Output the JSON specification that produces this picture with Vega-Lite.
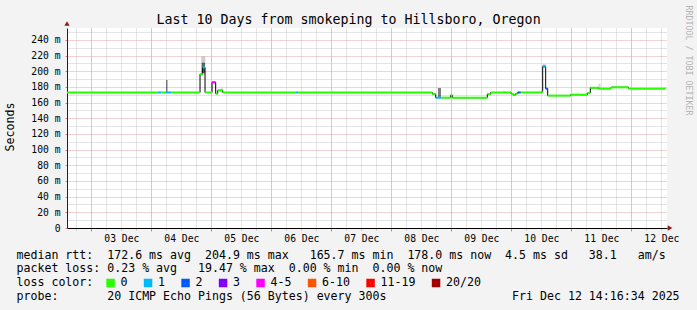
{
  "$schema": "https://vega.github.io/schema/vega-lite/v6.json",
  "width": 600,
  "height": 200,
  "autosize": {"type": "none"},
  "padding": {"left": 67, "top": 28, "right": 30, "bottom": 82},
  "background": "#f3f3f3",
  "config": {
    "view": {"fill": "#ffffff", "stroke": null},
    "font": "DejaVu Sans Mono",
    "axis": {"labelFont": "DejaVu Sans Mono", "titleFont": "DejaVu Sans Mono", "labelColor": "#000000", "titleColor": "#000000", "titleFontWeight": "normal"}
  },
  "title": {
    "text": "Last 10 Days from smokeping to Hillsboro, Oregon",
    "font": "DejaVu Sans Mono",
    "fontSize": 13.3,
    "fontWeight": "normal",
    "color": "#000000",
    "anchor": "middle",
    "dx": -18.5,
    "baseline": "alphabetic",
    "offset": -32.3
  },
  "datasets": {
    "median": [
      {"start": "2025-12-02T14:16:34Z", "end": "2025-12-04T02:41:00Z", "rtt": 173, "loss": "0"},
      {"start": "2025-12-04T02:41:00Z", "end": "2025-12-04T03:53:00Z", "rtt": 173, "loss": "1"},
      {"start": "2025-12-04T03:53:00Z", "end": "2025-12-04T05:53:00Z", "rtt": 173, "loss": "0"},
      {"start": "2025-12-04T05:53:00Z", "end": "2025-12-04T07:53:00Z", "rtt": 173, "loss": "1"},
      {"start": "2025-12-04T07:53:00Z", "end": "2025-12-04T19:29:00Z", "rtt": 173, "loss": "0"},
      {"start": "2025-12-04T19:29:00Z", "end": "2025-12-04T20:33:00Z", "rtt": 196.5, "loss": "0"},
      {"start": "2025-12-04T20:33:00Z", "end": "2025-12-04T21:29:00Z", "rtt": 205, "loss": "1"},
      {"start": "2025-12-04T21:29:00Z", "end": "2025-12-05T00:17:00Z", "rtt": 173, "loss": "0"},
      {"start": "2025-12-05T00:17:00Z", "end": "2025-12-05T01:45:00Z", "rtt": 186, "loss": "4-5"},
      {"start": "2025-12-05T01:45:00Z", "end": "2025-12-05T02:33:00Z", "rtt": 171.5, "loss": "0"},
      {"start": "2025-12-05T02:33:00Z", "end": "2025-12-05T04:33:00Z", "rtt": 175.7, "loss": "0"},
      {"start": "2025-12-05T04:33:00Z", "end": "2025-12-06T09:53:00Z", "rtt": 173, "loss": "0"},
      {"start": "2025-12-06T09:53:00Z", "end": "2025-12-06T10:41:00Z", "rtt": 173, "loss": "1"},
      {"start": "2025-12-06T10:41:00Z", "end": "2025-12-08T16:24:00Z", "rtt": 173, "loss": "0"},
      {"start": "2025-12-08T16:24:00Z", "end": "2025-12-08T17:45:00Z", "rtt": 171, "loss": "0"},
      {"start": "2025-12-08T17:45:00Z", "end": "2025-12-08T19:53:00Z", "rtt": 166.4, "loss": "1"},
      {"start": "2025-12-08T19:53:00Z", "end": "2025-12-08T23:45:00Z", "rtt": 166.4, "loss": "0"},
      {"start": "2025-12-08T23:45:00Z", "end": "2025-12-09T00:24:00Z", "rtt": 169.4, "loss": "0"},
      {"start": "2025-12-09T00:24:00Z", "end": "2025-12-09T14:24:00Z", "rtt": 166.4, "loss": "0"},
      {"start": "2025-12-09T14:24:00Z", "end": "2025-12-09T15:45:00Z", "rtt": 171, "loss": "0"},
      {"start": "2025-12-09T15:45:00Z", "end": "2025-12-09T23:53:00Z", "rtt": 173, "loss": "0"},
      {"start": "2025-12-09T23:53:00Z", "end": "2025-12-10T00:48:00Z", "rtt": 171, "loss": "0"},
      {"start": "2025-12-10T00:48:00Z", "end": "2025-12-10T01:45:00Z", "rtt": 169.8, "loss": "0"},
      {"start": "2025-12-10T01:45:00Z", "end": "2025-12-10T02:33:00Z", "rtt": 171.5, "loss": "0"},
      {"start": "2025-12-10T02:33:00Z", "end": "2025-12-10T03:45:00Z", "rtt": 173, "loss": "2"},
      {"start": "2025-12-10T03:45:00Z", "end": "2025-12-10T12:09:00Z", "rtt": 173, "loss": "0"},
      {"start": "2025-12-10T12:09:00Z", "end": "2025-12-10T12:33:00Z", "rtt": 174, "loss": "0"},
      {"start": "2025-12-10T12:33:00Z", "end": "2025-12-10T13:45:00Z", "rtt": 206, "loss": "1"},
      {"start": "2025-12-10T13:45:00Z", "end": "2025-12-10T14:33:00Z", "rtt": 177.9, "loss": "2"},
      {"start": "2025-12-10T14:33:00Z", "end": "2025-12-10T23:45:00Z", "rtt": 169, "loss": "0"},
      {"start": "2025-12-10T23:45:00Z", "end": "2025-12-11T06:24:00Z", "rtt": 170.2, "loss": "0"},
      {"start": "2025-12-11T06:24:00Z", "end": "2025-12-11T07:36:00Z", "rtt": 172.3, "loss": "0"},
      {"start": "2025-12-11T07:36:00Z", "end": "2025-12-11T10:48:00Z", "rtt": 179, "loss": "0"},
      {"start": "2025-12-11T10:48:00Z", "end": "2025-12-11T15:53:00Z", "rtt": 177.9, "loss": "0"},
      {"start": "2025-12-11T15:53:00Z", "end": "2025-12-11T22:48:00Z", "rtt": 179.6, "loss": "0"},
      {"start": "2025-12-11T22:48:00Z", "end": "2025-12-12T13:45:00Z", "rtt": 177.9, "loss": "0"}
    ],
    "smoke": [
      {"start": "2025-12-04T05:53:00Z", "end": "2025-12-04T06:29:00Z", "lo": 173, "hi": 189, "n": 10},
      {"start": "2025-12-04T20:00:00Z", "end": "2025-12-04T21:36:00Z", "lo": 197, "hi": 219, "n": 4},
      {"start": "2025-12-04T20:09:00Z", "end": "2025-12-04T21:29:00Z", "lo": 198, "hi": 211, "n": 10},
      {"start": "2025-12-05T03:53:00Z", "end": "2025-12-05T04:33:00Z", "lo": 175.7, "hi": 179, "n": 3},
      {"start": "2025-12-08T18:41:00Z", "end": "2025-12-08T19:53:00Z", "lo": 166.4, "hi": 178.7, "n": 10},
      {"start": "2025-12-09T20:41:00Z", "end": "2025-12-09T21:53:00Z", "lo": 173, "hi": 175, "n": 2},
      {"start": "2025-12-10T12:33:00Z", "end": "2025-12-10T13:45:00Z", "lo": 205, "hi": 208.5, "n": 8},
      {"start": "2025-12-11T10:48:00Z", "end": "2025-12-11T11:45:00Z", "lo": 179, "hi": 184, "n": 3}
    ]
  },
  "layer": [
    {
      "data": {"name": "smoke"},
      "mark": {"type": "rect", "color": "#000000"},
      "encoding": {
        "x": {
          "field": "start", "type": "temporal",
          "scale": {"type": "utc", "domain": [1764684994000, 1765548994000]},
          "axis": {"orient": "bottom", "values": [1764698400000, 1764720000000, 1764741600000, 1764763200000, 1764784800000, 1764806400000, 1764828000000, 1764849600000, 1764871200000, 1764892800000, 1764914400000, 1764936000000, 1764957600000, 1764979200000, 1765000800000, 1765022400000, 1765044000000, 1765065600000, 1765087200000, 1765108800000, 1765130400000, 1765152000000, 1765173600000, 1765195200000, 1765216800000, 1765238400000, 1765260000000, 1765281600000, 1765303200000, 1765324800000, 1765346400000, 1765368000000, 1765389600000, 1765411200000, 1765432800000, 1765454400000, 1765476000000, 1765497600000, 1765519200000, 1765540800000], "labels": false, "domain": false, "title": null, "grid": true, "gridColor": "#c8c8c8", "gridDash": [1, 1], "ticks": true, "tickColor": "#c0c0c0", "tickSize": 2}
        },
        "x2": {"field": "end"},
        "y": {
          "field": "lo", "type": "quantitative",
          "scale": {"domain": [0, 255.3], "nice": false, "zero": false},
          "axis": {"orient": "left", "values": [10, 30, 50, 70, 90, 110, 130, 150, 170, 190, 210, 230, 250], "labels": false, "domain": false, "title": null, "grid": true, "gridColor": "#c8c8c8", "gridDash": [1, 1], "ticks": false}
        },
        "y2": {"field": "hi"},
        "opacity": {"field": "n", "type": "quantitative", "scale": {"domain": [0, 20], "range": [0, 1]}, "legend": null}
      }
    },
    {
      "data": {"name": "median"},
      "mark": {"type": "line", "interpolate": "step-after", "color": "#000000", "strokeWidth": 1},
      "encoding": {
        "x": {
          "field": "start", "type": "temporal",
          "axis": {"orient": "bottom", "values": [1764720000000, 1764806400000, 1764892800000, 1764979200000, 1765065600000, 1765152000000, 1765238400000, 1765324800000, 1765411200000, 1765497600000], "labels": false, "domain": false, "title": null, "grid": true, "gridColor": "#f2a0a0", "gridDash": [1, 1], "ticks": true, "tickColor": "#f08080", "tickSize": 3}
        },
        "y": {
          "field": "rtt", "type": "quantitative",
          "axis": {
            "orient": "left", "values": [0, 20, 40, 60, 80, 100, 120, 140, 160, 180, 200, 220, 240],
            "labelExpr": "datum.value == 0 ? '0\u00a0\u00a0' : datum.value + '\u00a0m'",
            "labelFontSize": 9.7, "labelPadding": 5, "tickSize": 2, "tickColor": "#f08080",
            "grid": true, "gridColor": "#e0a8a8", "gridDash": [1, 1],
            "domain": true, "domainColor": "#222222",
            "title": "Seconds", "titleFontSize": 11.6, "titleX": -56.7, "titleY": 98.5, "titleAngle": -90, "titleBaseline": "middle", "titleAlign": "center"
          }
        }
      }
    },
    {
      "data": {"name": "median"},
      "mark": {"type": "rule", "strokeWidth": 2},
      "encoding": {
        "x": {
          "field": "start", "type": "temporal",
          "axis": {
            "orient": "bottom",
            "values": [1764763200000, 1764849600000, 1764936000000, 1765022400000, 1765108800000, 1765195200000, 1765281600000, 1765368000000, 1765454400000, 1765540800000],
            "labelExpr": "utcFormat(datum.value, '%d %b')",
            "labelFontSize": 9.7, "labelBaseline": "alphabetic", "labelPadding": 13.7, "ticks": false, "tickSize": 0,
            "labelFlush": false, "labelOverlap": false, "labelBound": false,
            "grid": false, "domain": true, "domainColor": "#000000",
            "title": [
              "median\u00a0rtt:\u00a0\u00a0172.6\u00a0ms\u00a0avg\u00a0\u00a0204.9\u00a0ms\u00a0max\u00a0\u00a0\u00a0165.7\u00a0ms\u00a0min\u00a0\u00a0178.0\u00a0ms\u00a0now\u00a0\u00a04.5\u00a0ms\u00a0sd\u00a0\u00a0\u00a038.1\u00a0\u00a0\u00a0am/s",
              "packet\u00a0loss:\u00a00.23\u00a0%\u00a0avg\u00a0\u00a0\u00a019.47\u00a0%\u00a0max\u00a0\u00a00.00\u00a0%\u00a0min\u00a0\u00a00.00\u00a0%\u00a0now",
              "loss\u00a0color:",
              "probe:\u00a0\u00a0\u00a0\u00a0\u00a0\u00a0\u00a020\u00a0ICMP\u00a0Echo\u00a0Pings\u00a0(56\u00a0Bytes)\u00a0every\u00a0300s\u00a0\u00a0\u00a0\u00a0\u00a0\u00a0\u00a0\u00a0\u00a0\u00a0\u00a0\u00a0\u00a0\u00a0\u00a0\u00a0\u00a0\u00a0Fri\u00a0Dec\u00a012\u00a014:16:34\u00a02025"
            ],
            "titleFontSize": 11.6, "titleAlign": "left", "titleAnchor": "start", "titleX": -51, "titleY": 30.3, "titleBaseline": "alphabetic", "titleLineHeight": 13.6
          }
        },
        "x2": {"field": "end"},
        "y": {
          "field": "rtt", "type": "quantitative",
          "axis": {"orient": "right", "labels": false, "ticks": false, "domain": false, "grid": false, "title": "RRDTOOL / TOBI OETIKER", "titleFont": "DejaVu Sans Mono", "titleFontSize": 8.3, "titleColor": "#b4b4b4", "titleAngle": 90, "titleX": 20.7, "titleY": -23, "titleAlign": "left", "titleBaseline": "middle"}
        },
        "color": {
          "field": "loss", "type": "nominal",
          "scale": {"domain": ["0", "1", "2", "3", "4-5", "6-10", "11-19", "20/20"], "range": ["#26ff00", "#00b8ff", "#0059ff", "#7e00ff", "#ff00ff", "#ff5500", "#ff0000", "#a10000"]},
          "legend": {
            "orient": "none", "legendX": 37.75, "legendY": 248.7, "direction": "horizontal", "title": null,
            "symbolType": "square", "symbolSize": 20, "symbolStrokeWidth": 4, "symbolOpacity": 1,
            "labelFont": "DejaVu Sans Mono", "labelFontSize": 11.6, "labelColor": "#000000", "labelOffset": 4.25,
            "columnPadding": 9.5, "padding": 0
          }
        }
      }
    },
    {
      "data": {"values": [{}]},
      "mark": {"type": "point", "shape": "triangle-up", "filled": true, "color": "#8b1a1a", "size": 28, "opacity": 1},
      "encoding": {
        "x": {"datum": 1764684994000, "type": "temporal", "axis": null},
        "y": {"datum": 261, "type": "quantitative", "axis": null}
      }
    },
    {
      "data": {"values": [{}]},
      "mark": {"type": "point", "shape": "triangle-right", "filled": true, "color": "#8b1a1a", "size": 28, "opacity": 1},
      "encoding": {
        "x": {"datum": 1765553314000, "type": "temporal", "axis": null},
        "y": {"datum": 0, "type": "quantitative", "axis": null}
      }
    }
  ],
  "resolve": {"axis": {"x": "independent", "y": "independent"}}
}
